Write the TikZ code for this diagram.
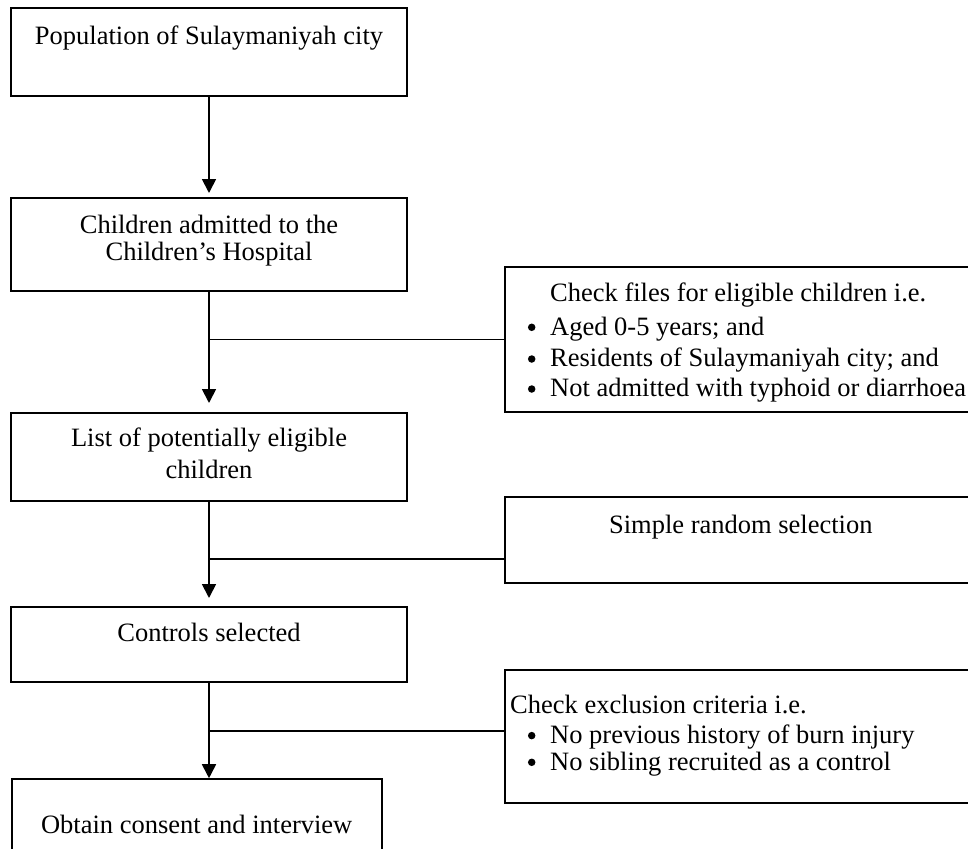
\documentclass[tikz,border=0pt]{standalone}
\usepackage{fontspec}
\setmainfont{Liberation Serif}
\usetikzlibrary{arrows.meta}
\begin{document}
\begin{tikzpicture}[x=1pt,y=-1pt,
  box/.style={draw, line width=1.8pt, inner sep=0pt, outer sep=0pt, rectangle},
  txt/.style={anchor=base, inner sep=0pt, font=\fontsize{26.5}{30}\selectfont},
  txtw/.style={txt, anchor=base west},
  bul/.style={circle, fill, inner sep=0pt, minimum size=7.5pt},
  arr/.style={line width=1.8pt, -{Triangle[length=14pt,width=14pt]}},
  ln/.style={line width=1.8pt}]
\clip (0,0) rectangle (968,848);
\fill[white] (0,0) rectangle (968,848);
% left column boxes
\node[box, minimum width=396.6pt, minimum height=87.7pt] (b1) at (209,52.2) {};
\node[box, minimum width=396.6pt, minimum height=92.4pt] (b2) at (209,244.5) {};
\node[box, minimum width=396.6pt, minimum height=88pt] (b3) at (209,456.7) {};
\node[box, minimum width=396.6pt, minimum height=75pt] (b4) at (209,644.2) {};
\node[box, minimum width=370pt, minimum height=82pt] (b5) at (196.7,819.7) {};
% right column boxes
\node[box, minimum width=495pt, minimum height=145.6pt] (r1) at (752.5,339.5) {};
\node[box, minimum width=495pt, minimum height=86pt] (r2) at (752.5,540.3) {};
\node[box, minimum width=495pt, minimum height=133.3pt] (r3) at (752.5,736.7) {};
% texts
\node[txt] (t1) at (209,45) {Population of Sulaymaniyah city};
\node[txt] (t2a) at (209,233.3) {Children admitted to the};
\node[txt] (t2b) at (209,260) {Children’s Hospital};
\node[txt] (t3a) at (209,446.7) {List of potentially eligible};
\node[txt] (t3b) at (209,478.3) {children};
\node[txt] (t4) at (209,641.7) {Controls selected};
\node[txt] (t5) at (196.7,833.3) {Obtain consent and interview};
\node[txtw] (r1a) at (550,301.7) {Check files for eligible children i.e.};
\node[bul] (r1b0) at (531.7,327.3) {};
\node[txtw] (r1b) at (550,335) {Aged 0-5 years; and};
\node[bul] (r1c0) at (531.7,359) {};
\node[txtw] (r1c) at (550,366.7) {Residents of Sulaymaniyah city; and};
\node[bul] (r1d0) at (531.7,389) {};
\node[txtw] (r1d) at (550,396.7) {Not admitted with typhoid or diarrhoea};
\node[txt] (r2a) at (740.8,533.3) {Simple random selection};
\node[txtw] (r3a) at (510,713.3) {Check exclusion criteria i.e.};
\node[bul] (r3b0) at (531.7,735.6) {};
\node[txtw] (r3b) at (550,743.3) {No previous history of burn injury};
\node[bul] (r3c0) at (531.7,762.3) {};
\node[txtw] (r3c) at (550,770) {No sibling recruited as a control};
% trunk arrows
\draw[arr, shorten >=5.3pt] (b1.south) -- (b2.north);
\draw[arr, shorten >=9.7pt] (b2.south) -- (b3.north);
\draw[arr, shorten >=8.7pt] (b3.south) -- (b4.north);
\draw[arr, shorten >=0.5pt] (b4.south) -- (b4.south |- b5.north);
% branches
\coordinate (j1) at (209,339.5);
\coordinate (j2) at (209,559.3);
\coordinate (j3) at (209,730.7);
\draw[ln] (j1) -- (j1 -| r1.west);
\draw[ln] (j2) -- (j2 -| r2.west);
\draw[ln] (j3) -- (j3 -| r3.west);
\end{tikzpicture}
\end{document}
